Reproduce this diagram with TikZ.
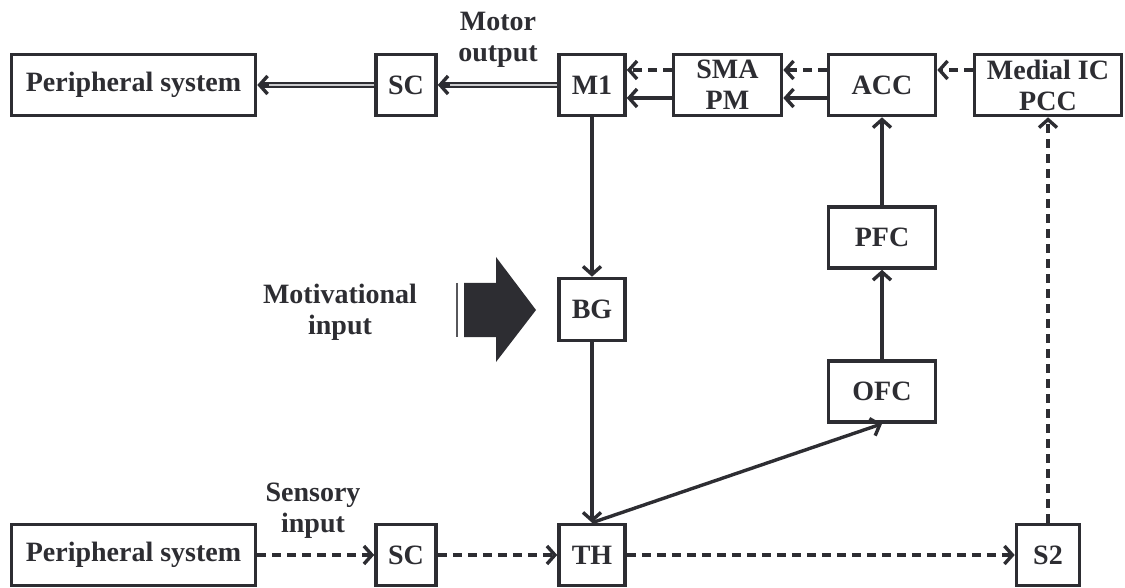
\documentclass[tikz,border=0pt]{standalone}
\usepackage{fontspec}
\setmainfont{Liberation Serif}
\usetikzlibrary{arrows.meta}
\definecolor{ink}{RGB}{45,45,50}
\begin{document}
\begin{tikzpicture}[x=1pt, y=-1pt,
        every node/.style = {font=\bfseries\fontsize{28}{31}\selectfont, text=ink, align=center},
        box/.style = {draw=ink, line width=3.6pt, fill=white, minimum height=61pt, inner sep=2pt},
        link/.style = {draw=ink, line width=3.4pt, -{Straight Barb[length=8pt, width=18pt]}},
        dlink/.style = {link, dash pattern=on 9pt off 6pt},
        twin/.style = {draw=ink, double=ink!25, double distance=1.8pt, line width=2.2pt, shorten >=3pt}]
    \useasboundingbox (0,0) rectangle (1125,588);
    \node[box, minimum width=244pt] (perout) at (133.5,85) {Peripheral system};
    \node[box, minimum width=60pt] (scout) at (406,85) {SC};
    \node[box, minimum width=66pt] (mone) at (592,85) {M1};
    \node[box, minimum width=108pt] (sma) at (727.5,85) {SMA\\PM};
    \node[box, minimum width=107pt] (acc) at (882,85) {ACC};
    \node[box, minimum width=147pt] (mic) at (1048,85) {Medial IC\\PCC};
    \node[box, minimum width=107pt] (pfc) at (882,237.5) {PFC};
    \node[box, minimum width=66pt, minimum height=62pt] (bg) at (592,309.5) {BG};
    \node[box, minimum width=107pt] (ofc) at (882,391.5) {OFC};
    \node[box, minimum width=244pt] (perin) at (133.5,555) {Peripheral system};
    \node[box, minimum width=60pt] (scin) at (406,555) {SC};
    \node[box, minimum width=66pt] (th) at (592,555) {TH};
    \node[box, minimum width=63pt] (stwo) at (1048,555) {S2};
    \node (motor) at (498,40) {Motor\\output};
    \node (sensory) at (313,511) {Sensory\\input};
    \node (motiv) at (340,312) {Motivational\\input};
    \fill[ink] (464,283) -- (496,283) -- (496,257) -- (536,310) -- (496,362) -- (496,337) -- (464,337) -- cycle;
    \draw[ink!80, line width=1.8pt] (457,283) -- (457,337);
    \draw[twin] (mone) -- (scout);
    \draw[link] ([xshift=12pt]scout.east) -- (scout.east);
    \draw[twin] (scout) -- (perout);
    \draw[link] ([xshift=12pt]perout.east) -- (perout.east);
    \draw[dlink] ([yshift=15pt]sma.west) -- ([yshift=15pt]mone.east);
    \draw[link] ([yshift=-13pt]sma.west) -- ([yshift=-13pt]mone.east);
    \draw[dlink] ([yshift=15pt]acc.west) -- ([yshift=15pt]sma.east);
    \draw[link] ([yshift=-13pt]acc.west) -- ([yshift=-13pt]sma.east);
    \draw[dlink] ([yshift=15pt]mic.west) -- ([yshift=15pt]acc.east);
    \draw[link] (mone) -- (bg);
    \draw[link] (bg) -- (th);
    \draw[link] (th.north) -- (ofc.south);
    \draw[link] (ofc) -- (pfc);
    \draw[link] (pfc) -- (acc);
    \draw[dlink] (stwo) -- (mic);
    \draw[dlink] (perin) -- (scin);
    \draw[dlink] (scin) -- (th);
    \draw[dlink] (th) -- (stwo);
\end{tikzpicture}
\end{document}
